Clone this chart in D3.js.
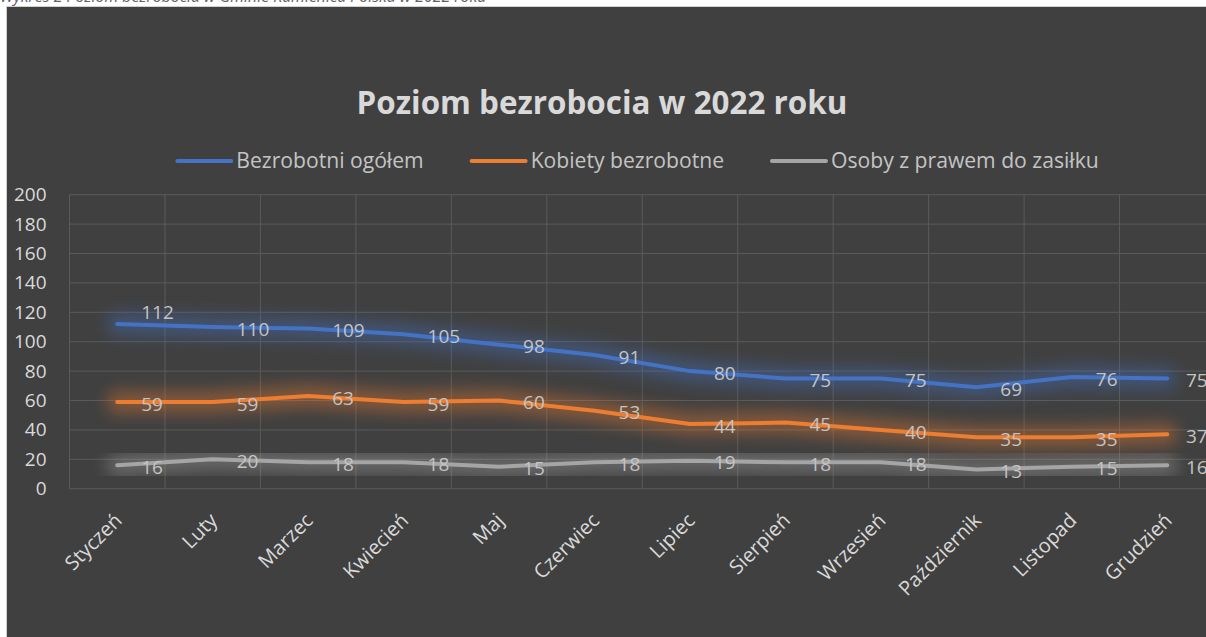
<!DOCTYPE html>
<html>
<head>
<meta charset="utf-8">
<script src="https://cdn.jsdelivr.net/npm/d3@7"></script>
<style>
    body { margin: 0; background: #ffffff; overflow: hidden; }
    svg { display: block; }
</style>
</head>
<body>
<div id="chart"></div>
<script>
const months = ["Styczeń", "Luty", "Marzec", "Kwiecień", "Maj", "Czerwiec",
    "Lipiec", "Sierpień", "Wrzesień", "Październik", "Listopad", "Grudzień"];

const ogolem = [112, 110, 109, 105, 98, 91, 80, 75, 75, 69, 76, 75];
const kobiety = [59, 59, 63, 59, 60, 53, 44, 45, 40, 35, 35, 37];
const zasilek = [16, 20, 18, 18, 15, 18, 19, 18, 18, 13, 15, 16];

const seriesNames = ["Bezrobotni ogółem", "Kobiety bezrobotne", "Osoby z prawem do zasiłku"];
const seriesColors = ["#4472C4", "#ED7D31", "#A5A5A5"];
const yTicks = [0, 20, 40, 60, 80, 100, 120, 140, 160, 180, 200];

const title = "Poziom bezrobocia w 2022 roku";
const caption = "Wykres 2 Poziom bezrobocia w Gminie Kamienica Polska w 2022 roku";

const width = 1206;
const height = 637;
const FONT = "'Open Sans', 'Noto Sans', sans-serif";
const plot = { left: 69.5, right: 1215, top: 194.7, bottom: 488.7 };

const svg = d3.select("#chart")
    .append("svg")
    .attr("width", width)
    .attr("height", height)
    .style("font-family", FONT);

// font size so that a string gets a given width
function fitSize(str, weight, style, target) {
    const t = svg.append("text")
        .style("font-weight", weight)
        .style("font-style", style)
        .style("font-size", "100px")
        .text(str);
    const w = t.node().getComputedTextLength();
    t.remove();
    return 100 * target / w;
}

const defs = svg.append("defs");
defs.append("filter")
    .attr("id", "glow")
    .attr("x", "-10%").attr("y", "-60%")
    .attr("width", "120%").attr("height", "220%")
    .append("feGaussianBlur")
    .attr("stdDeviation", 8);

// caption above the chart (cut off at the top)
svg.append("text")
    .attr("x", 0)
    .attr("y", 2)
    .style("font-style", "italic")
    .style("font-size", fitSize(caption, "normal", "italic", 487) + "px")
    .attr("fill", "#5f6368")
    .text(caption);

// chart area
svg.append("rect")
    .attr("x", 6.5)
    .attr("y", 6.5)
    .attr("width", width + 20)
    .attr("height", height + 20)
    .attr("fill", "#404040")
    .attr("stroke", "#d0d0d0");

const x = d3.scaleBand()
    .domain(months)
    .range([plot.left, plot.right]);

const y = d3.scaleLinear()
    .domain([0, 200])
    .range([plot.bottom, plot.top]);

const cx = m => x(m) + x.bandwidth() / 2;

// gridlines
svg.append("g")
    .selectAll("line")
    .data(yTicks)
    .join("line")
    .attr("x1", plot.left)
    .attr("x2", plot.right)
    .attr("y1", d => y(d))
    .attr("y2", d => y(d))
    .attr("stroke", "#5a5a5a");

svg.append("g")
    .selectAll("line")
    .data(months.map(m => x(m)).concat([plot.right]))
    .join("line")
    .attr("x1", d => d)
    .attr("x2", d => d)
    .attr("y1", plot.top)
    .attr("y2", plot.bottom)
    .attr("stroke", "#5a5a5a");

// y axis
const yAxis = svg.append("g")
    .attr("transform", `translate(${plot.left},0)`)
    .call(d3.axisLeft(y).tickValues(yTicks).tickSize(0).tickPadding(23));
yAxis.select(".domain").remove();
yAxis.selectAll("text")
    .attr("fill", "#d9d9d9")
    .style("font-family", FONT)
    .style("font-size", "19px");

// x axis
const xAxis = svg.append("g")
    .attr("transform", `translate(0,${plot.bottom})`)
    .call(d3.axisBottom(x).tickSize(0));
xAxis.select(".domain").remove();
xAxis.selectAll("text")
    .attr("x", 0)
    .attr("y", 0)
    .attr("dy", 0)
    .attr("transform", "translate(6,33) rotate(-45)")
    .style("text-anchor", "end")
    .attr("fill", "#d9d9d9")
    .style("font-family", FONT)
    .style("font-size", "20px");

const series = [ogolem, kobiety, zasilek].map((values, i) => ({
    name: seriesNames[i],
    color: seriesColors[i],
    values: values.map((v, j) => ({ month: months[j], value: v }))
}));

const line = d3.line()
    .x(d => cx(d.month))
    .y(d => y(d.value));

// glow under the lines
svg.append("g")
    .selectAll("path")
    .data(series)
    .join("path")
    .attr("d", d => line(d.values))
    .attr("fill", "none")
    .attr("stroke", d => d.color)
    .attr("stroke-width", 22)
    .attr("stroke-linejoin", "round")
    .attr("stroke-linecap", "round")
    .attr("opacity", 0.4)
    .attr("filter", "url(#glow)");

svg.append("g")
    .selectAll("path")
    .data(series)
    .join("path")
    .attr("d", d => line(d.values))
    .attr("fill", "none")
    .attr("stroke", d => d.color)
    .attr("stroke-width", 4)
    .attr("stroke-linejoin", "round")
    .attr("stroke-linecap", "round");

// data labels, right of each point
series.forEach((s, si) => {
    svg.append("g")
        .selectAll("text")
        .data(s.values)
        .join("text")
        .attr("x", d => Math.min(cx(d.month) + 24, width - 20))
        .attr("y", (d, i) => y(d.value) + 2 + (si === 0 && i === 0 ? -14 : 0))
        .attr("dy", "0.35em")
        .attr("fill", "#c4c4c4")
        .style("font-size", "19px")
        .text(d => d.value);
});

// title
svg.append("text")
    .attr("x", 602)
    .attr("y", 114)
    .attr("text-anchor", "middle")
    .attr("fill", "#d9d9d9")
    .style("font-weight", "bold")
    .style("font-size", fitSize(title, "bold", "normal", 491) + "px")
    .text(title);

// legend
const legendSize = fitSize(seriesNames[2], "normal", "normal", 268);
const legend = svg.append("g");
let lx = 0;
seriesNames.forEach((name, i) => {
    const g = legend.append("g").attr("transform", `translate(${lx},0)`);
    g.append("line")
        .attr("x1", 0).attr("x2", 54)
        .attr("y1", 0).attr("y2", 0)
        .attr("stroke", seriesColors[i])
        .attr("stroke-width", 4)
        .attr("stroke-linecap", "round");
    const t = g.append("text")
        .attr("x", 59)
        .attr("y", 0)
        .attr("dy", "0.35em")
        .attr("fill", "#c4c4c4")
        .style("font-size", legendSize + "px")
        .text(name);
    lx += 59 + t.node().getComputedTextLength() + 48;
});
const legendWidth = lx - 48;
legend.attr("transform", `translate(${638 - legendWidth / 2},161)`);
</script>
</body>
</html>
